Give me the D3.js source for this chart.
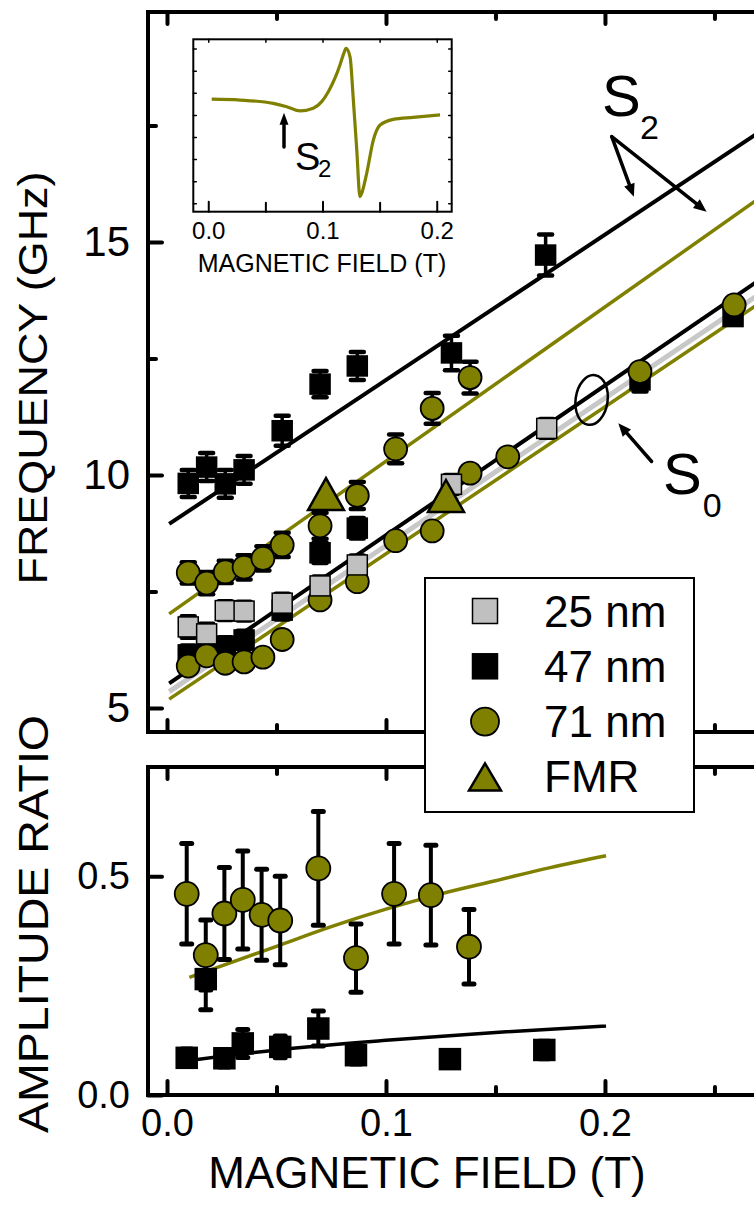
<!DOCTYPE html>
<html>
<head>
<meta charset="utf-8">
<script src="https://cdn.jsdelivr.net/npm/d3@7"></script>
<style>
  body { margin: 0; background: #fff; }
  svg { display: block; }
</style>
</head>
<body>
<svg id="chart" width="754" height="1216"></svg>
<script>
// ---------- data ----------

// upper branch (S2)
const s2Field47 = [0.0097, 0.0181, 0.0266, 0.0352, 0.0526, 0.0699, 0.0869, 0.1299, 0.1729];
const s2Freq47  = [9.82, 10.17, 9.81, 10.11, 10.95, 11.95, 12.34, 12.62, 14.72];
const s2Err47   = [0.29, 0.30, 0.30, 0.30, 0.32, 0.28, 0.30, 0.37, 0.44];

const s2Field71 = [0.0097, 0.0181, 0.0266, 0.0352, 0.0438, 0.0526, 0.0699, 0.0869, 0.1044, 0.1211, 0.1384];
const s2Freq71  = [7.90, 7.68, 7.92, 8.02, 8.21, 8.50, 8.91, 9.56, 10.56, 11.43, 12.09];
const s2Err71   = [0.23, 0.24, 0.24, 0.26, 0.26, 0.26, 0.28, 0.29, 0.31, 0.33, 0.34];

// lower branch (S0)
const s0Field25 = [0.0097, 0.0181, 0.0266, 0.0352, 0.0526, 0.0699, 0.0869, 0.1299, 0.1734];
const s0Freq25  = [6.74, 6.59, 7.09, 7.08, 7.25, 7.62, 8.07, 9.80, 11.00];
const s0Err25   = [0.23, 0.22, 0.20, 0.20, 0.20, 0.20, 0.20, 0.20, 0.20];

const s0Field47 = [0.0097, 0.0181, 0.0266, 0.0352, 0.0526, 0.0699, 0.0869, 0.2160, 0.2585];
const s0Freq47  = [6.14, 6.25, 6.32, 6.46, 7.10, 8.33, 8.86, 12.04, 13.40];
const s0Err47   = [0.20, 0.20, 0.20, 0.20, 0.20, 0.22, 0.22, 0.25, 0.15];

const s0Field71 = [0.0097, 0.0181, 0.0266, 0.0352, 0.0438, 0.0526, 0.0699, 0.0869, 0.1044, 0.1211, 0.1384, 0.1556, 0.2160, 0.2590];
const s0Freq71  = [5.90, 6.12, 5.96, 5.99, 6.09, 6.47, 7.32, 7.71, 8.59, 8.80, 10.04, 10.39, 12.22, 13.65];
const s0Err71   = [0.12, 0.12, 0.12, 0.12, 0.12, 0.12, 0.12, 0.12, 0.12, 0.12, 0.12, 0.12, 0.15, 0.15];

const fmrField = [0.0726, 0.1274];
const fmrFreq  = [9.59, 9.55];

// linear fits (end points)
const fitField = [0.001, 0.285];
const fitS2_47 = [8.95, 17.81];
const fitS2_71 = [7.02, 16.42];
const fitS0_47 = [5.53, 14.65];
const fitS0_25 = [5.35, 14.34];
const fitS0_71 = [5.19, 14.14];

// amplitude ratio panel
const ampField71 = [0.0090, 0.0177, 0.0262, 0.0346, 0.0432, 0.0517, 0.0691, 0.0863, 0.1037, 0.1205, 0.1379];
const ampRatio71 = [0.460, 0.320, 0.415, 0.446, 0.412, 0.399, 0.518, 0.313, 0.460, 0.457, 0.339];
const ampErr71   = [0.115, 0.080, 0.105, 0.112, 0.104, 0.101, 0.130, 0.078, 0.115, 0.114, 0.085];

const ampField47 = [0.0090, 0.0177, 0.0262, 0.0346, 0.0517, 0.0691, 0.0863, 0.1292, 0.1723];
const ampRatio47 = [0.085, 0.265, 0.084, 0.118, 0.110, 0.152, 0.091, 0.082, 0.103];
const ampErr47   = [0.020, 0.070, 0.020, 0.032, 0.025, 0.040, 0.020, 0.015, 0.020];

const ampFitField71 = [0.0102, 0.05, 0.075, 0.10, 0.125, 0.15, 0.175, 0.2005];
const ampFitRatio71 = [0.269, 0.340, 0.385, 0.425, 0.460, 0.490, 0.520, 0.547];
const ampFitField47 = [0.0102, 0.05, 0.10, 0.15, 0.2005];
const ampFitRatio47 = [0.079, 0.103, 0.125, 0.143, 0.158];

// inset: absorption derivative trace (arb. units)
const insetField  = [0.0030, 0.0278, 0.0569, 0.0687, 0.0803, 0.0919, 0.0993, 0.1051, 0.1109, 0.1153, 0.1188, 0.1206,
                     0.1241, 0.1270, 0.1300, 0.1328, 0.1343, 0.1387, 0.1445, 0.1504, 0.1620, 0.1792, 0.2029];
const insetSignal = [4.71, 4.67, 4.52, 4.37, 4.18, 4.30, 4.60, 5.05, 5.66, 6.26, 6.81, 7.01,
                     6.63, 4.67, 2.41, 0.30, 0.45, 1.36, 2.86, 3.54, 3.80, 3.89, 4.00];

const xTicksMajor = [0, 0.1, 0.2];
const xTicksMinor = [0.05, 0.15, 0.25];
const freqTicks = [5, 10, 15];
const freqMinor = [7.5, 12.5, 17.5];
const ampTicks = [0, 0.5];
const legendLabels = ["25 nm", "47 nm", "71 nm", "FMR"];

const OLIVE = "#808000";
const GREY = "#c0c0c0";
const FONT = "'Liberation Sans', Arial, Helvetica, sans-serif";

// ---------- scales ----------
const svg = d3.select("#chart");
const x = d3.scaleLinear().domain([-0.00868, 0.2845]).range([148, 790]);
const yTop = d3.scaleLinear().domain([4.485, 19.936]).range([732, 12]);
const yBot = d3.scaleLinear().domain([0, 0.75]).range([1095, 767]);

const zip3 = (a, b, c) => a.map((v, i) => ({b: v, v: b[i], e: c ? c[i] : 0}));

function styleAxis(g, fs, w) {
    g.select(".domain").remove();
    g.selectAll(".tick line").attr("stroke", "#000").attr("stroke-width", w).attr("stroke-linecap", "round");
    g.selectAll("text").attr("font-size", fs).attr("font-family", FONT).attr("fill", "#000");
}

function errorBars(g, data, ys, lw, capW) {
    let eb = g.append("g");
    eb.selectAll("line.bar").data(data).join("line")
        .attr("x1", d => x(d.b)).attr("x2", d => x(d.b))
        .attr("y1", d => ys(d.v - d.e)).attr("y2", d => ys(d.v + d.e))
        .attr("stroke", "#000").attr("stroke-width", lw);
    [-1, 1].forEach(s => {
        eb.append("g").selectAll("line").data(data).join("line")
            .attr("x1", d => x(d.b) - capW / 2).attr("x2", d => x(d.b) + capW / 2)
            .attr("y1", d => ys(d.v + s * d.e)).attr("y2", d => ys(d.v + s * d.e))
            .attr("stroke", "#000").attr("stroke-width", lw + 1).attr("stroke-linecap", "round");
    });
}

function squares(g, data, ys, side, fill) {
    g.append("g").selectAll("rect").data(data).join("rect")
        .attr("x", d => x(d.b) - side / 2).attr("y", d => ys(d.v) - side / 2)
        .attr("width", side).attr("height", side)
        .attr("fill", fill).attr("stroke", "#000").attr("stroke-width", 1.5);
}

function circles(g, data, ys, r) {
    g.append("g").selectAll("circle").data(data).join("circle")
        .attr("cx", d => x(d.b)).attr("cy", d => ys(d.v)).attr("r", r)
        .attr("fill", OLIVE).attr("stroke", "#000").attr("stroke-width", 1.8);
}

function triPath(cx, cy, w, h) {
    return `M${cx - w / 2},${cy + h / 2}L${cx + w / 2},${cy + h / 2}L${cx},${cy - h / 2}Z`;
}

function arrow(g, x1, y1, x2, y2, len, wid) {
    let a = Math.atan2(y2 - y1, x2 - x1);
    let bx = x2 - len * Math.cos(a), by = y2 - len * Math.sin(a);
    let nx = -Math.sin(a) * wid / 2, ny = Math.cos(a) * wid / 2;
    g.append("line").attr("x1", x1).attr("y1", y1).attr("x2", bx).attr("y2", by)
        .attr("stroke", "#000").attr("stroke-width", 3.5).attr("stroke-linecap", "round");
    g.append("path").attr("d", `M${x2},${y2}L${bx + nx},${by + ny}L${bx - nx},${by - ny}Z`).attr("fill", "#000");
}

// ---------- top panel: frequency ----------
let freqPanel = svg.append("g");

// fit lines
let fits = [
    {v: fitS2_71, c: OLIVE, w: 3.5},
    {v: fitS2_47, c: "#000", w: 4},
    {v: fitS0_71, c: OLIVE, w: 3.5},
    {v: fitS0_25, c: "#c8c8c8", w: 5},
    {v: fitS0_47, c: "#000", w: 4}
];
freqPanel.append("g").selectAll("line").data(fits).join("line")
    .attr("x1", x(fitField[0])).attr("x2", x(fitField[1]))
    .attr("y1", d => yTop(d.v[0])).attr("y2", d => yTop(d.v[1]))
    .attr("stroke", d => d.c).attr("stroke-width", d => d.w);

// error bars
errorBars(freqPanel, zip3(s2Field47, s2Freq47, s2Err47), yTop, 3.5, 13);
errorBars(freqPanel, zip3(s2Field71, s2Freq71, s2Err71), yTop, 3.5, 13);
errorBars(freqPanel, zip3(s0Field47, s0Freq47, s0Err47), yTop, 3.5, 13);
errorBars(freqPanel, zip3(s0Field71, s0Freq71, s0Err71), yTop, 3.5, 13);
errorBars(freqPanel, zip3(s0Field25, s0Freq25, s0Err25), yTop, 3.5, 13);

// markers
squares(freqPanel, zip3(s2Field47, s2Freq47), yTop, 20, "#000");
squares(freqPanel, zip3(s0Field47, s0Freq47), yTop, 20, "#000");
circles(freqPanel, zip3(s2Field71, s2Freq71), yTop, 11.5);
circles(freqPanel, zip3(s0Field71, s0Freq71), yTop, 11.5);
squares(freqPanel, zip3(s0Field25, s0Freq25), yTop, 20, GREY);
freqPanel.append("g").selectAll("path").data(zip3(fmrField, fmrFreq)).join("path")
    .attr("d", d => triPath(x(d.b), yTop(d.v), 36, 32))
    .attr("fill", OLIVE).attr("stroke", "#000").attr("stroke-width", 2.5);

// frame and ticks
freqPanel.append("rect").attr("x", 148).attr("y", 12).attr("width", 642).attr("height", 720)
    .attr("fill", "none").attr("stroke", "#000").attr("stroke-width", 4);

freqPanel.append("g").attr("transform", "translate(148,0)")
    .call(d3.axisLeft(yTop).tickValues(freqTicks).tickSize(-14).tickPadding(18).tickFormat(d3.format("d")))
    .call(g => styleAxis(g, 42, 4));
freqPanel.append("g").attr("transform", "translate(148,0)")
    .call(d3.axisLeft(yTop).tickValues(freqMinor).tickSize(-8).tickFormat(""))
    .call(g => styleAxis(g, 42, 4));
[[12, d3.axisTop], [732, d3.axisBottom]].forEach(([yy, ax]) => {
    freqPanel.append("g").attr("transform", `translate(0,${yy})`)
        .call(ax(x).tickValues(xTicksMajor).tickSize(-12).tickFormat(""))
        .call(g => styleAxis(g, 38, 4));
    freqPanel.append("g").attr("transform", `translate(0,${yy})`)
        .call(ax(x).tickValues(xTicksMinor).tickSize(-7).tickFormat(""))
        .call(g => styleAxis(g, 38, 4));
});

// annotations
let ann = svg.append("g");
arrow(ann, x(0.2031), yTop(17.26), x(0.2132), yTop(15.97), 13, 11);
arrow(ann, x(0.2031), yTop(17.26), x(0.2464), yTop(15.65), 13, 11);
arrow(ann, x(0.2213), yTop(10.29), x(0.2061), yTop(11.11), 13, 11);
ann.append("ellipse").attr("transform", `translate(${x(0.1939)},${yTop(11.61)}) rotate(8)`)
    .attr("rx", 16).attr("ry", 25).attr("fill", "none").attr("stroke", "#000").attr("stroke-width", 2.5);
ann.append("text").attr("x", x(0.1986)).attr("y", yTop(17.70)).attr("font-size", 58).attr("font-family", FONT).text("S");
ann.append("text").attr("x", x(0.2160)).attr("y", yTop(17.21)).attr("font-size", 34).attr("font-family", FONT).text("2");
ann.append("text").attr("x", x(0.2265)).attr("y", yTop(9.59)).attr("font-size", 58).attr("font-family", FONT).text("S");
ann.append("text").attr("x", x(0.2446)).attr("y", yTop(9.10)).attr("font-size", 34).attr("font-family", FONT).text("0");

// ---------- inset ----------
const xIn = d3.scaleLinear().domain([-0.0131, 0.2131]).range([193.3, 451.7]);
const yIn = d3.scaleLinear().domain([-0.38, 7.42]).range([211.7, 39.3]);
let inset = svg.append("g");
inset.append("rect").attr("x", 193.3).attr("y", 39.3).attr("width", 258.4).attr("height", 172.4)
    .attr("fill", "#fff");
inset.append("path").datum(d3.zip(insetField, insetSignal))
    .attr("d", d3.line().x(d => xIn(d[0])).y(d => yIn(d[1])).curve(d3.curveMonotoneX))
    .attr("fill", "none").attr("stroke", OLIVE).attr("stroke-width", 3.2);
inset.append("rect").attr("x", 193.3).attr("y", 39.3).attr("width", 258.4).attr("height", 172.4)
    .attr("fill", "none").attr("stroke", "#000").attr("stroke-width", 2);
inset.append("g").attr("transform", "translate(0,211.7)")
    .call(d3.axisBottom(xIn).tickValues(xTicksMajor).tickSize(-10).tickPadding(10).tickFormat(d3.format(".1f")))
    .call(g => styleAxis(g, 24, 2));
inset.append("g").attr("transform", "translate(0,211.7)")
    .call(d3.axisBottom(xIn).tickValues([0.05, 0.15]).tickSize(-9).tickFormat(""))
    .call(g => styleAxis(g, 24, 2));
inset.append("g").attr("transform", "translate(0,39.3)")
    .call(d3.axisTop(xIn).tickValues([0, 0.05, 0.1, 0.15, 0.2]).tickSize(-3).tickFormat(""))
    .call(g => styleAxis(g, 24, 1.5));
inset.append("g").attr("transform", "translate(193.3,0)")
    .call(d3.axisLeft(yIn).tickValues(d3.range(0, 8)).tickSize(-3).tickFormat(""))
    .call(g => styleAxis(g, 24, 1.5));
inset.append("g").attr("transform", "translate(451.7,0)")
    .call(d3.axisRight(yIn).tickValues(d3.range(0, 8)).tickSize(-3).tickFormat(""))
    .call(g => styleAxis(g, 24, 1.5));
inset.append("text").attr("x", 322).attr("y", 272).attr("text-anchor", "middle")
    .attr("font-size", 25).attr("font-family", FONT).text("MAGNETIC FIELD (T)");
arrow(inset, xIn(0.0663), yIn(2.55), xIn(0.0663), yIn(4.10), 12, 9);
inset.append("text").attr("x", xIn(0.0759)).attr("y", yIn(1.51)).attr("font-size", 38).attr("font-family", FONT).text("S");
inset.append("text").attr("x", xIn(0.0960)).attr("y", yIn(1.20)).attr("font-size", 24).attr("font-family", FONT).text("2");

// ---------- bottom panel: amplitude ratio ----------
let ampPanel = svg.append("g");
let lineAmp = d3.line().x(d => x(d[0])).y(d => yBot(d[1])).curve(d3.curveMonotoneX);
ampPanel.append("path").datum(d3.zip(ampFitField71, ampFitRatio71)).attr("d", lineAmp)
    .attr("fill", "none").attr("stroke", OLIVE).attr("stroke-width", 3.5);
ampPanel.append("path").datum(d3.zip(ampFitField47, ampFitRatio47)).attr("d", lineAmp)
    .attr("fill", "none").attr("stroke", "#000").attr("stroke-width", 3.5);

errorBars(ampPanel, zip3(ampField47, ampRatio47, ampErr47), yBot, 4, 10);
errorBars(ampPanel, zip3(ampField71, ampRatio71, ampErr71), yBot, 4, 10);
squares(ampPanel, zip3(ampField47, ampRatio47), yBot, 21, "#000");
circles(ampPanel, zip3(ampField71, ampRatio71), yBot, 12);

ampPanel.append("rect").attr("x", 148).attr("y", 767).attr("width", 642).attr("height", 328)
    .attr("fill", "none").attr("stroke", "#000").attr("stroke-width", 4);
ampPanel.append("g").attr("transform", "translate(148,0)")
    .call(d3.axisLeft(yBot).tickValues(ampTicks).tickSize(-14).tickPadding(18).tickFormat(d3.format(".1f")))
    .call(g => styleAxis(g, 38, 4));
ampPanel.append("g").attr("transform", "translate(0,767)")
    .call(d3.axisTop(x).tickValues(xTicksMajor).tickSize(-12).tickFormat(""))
    .call(g => styleAxis(g, 38, 4));
ampPanel.append("g").attr("transform", "translate(0,767)")
    .call(d3.axisTop(x).tickValues(xTicksMinor).tickSize(-7).tickFormat(""))
    .call(g => styleAxis(g, 38, 4));
ampPanel.append("g").attr("transform", "translate(0,1095)")
    .call(d3.axisBottom(x).tickValues(xTicksMajor).tickSize(-14).tickPadding(14).tickFormat(d3.format(".1f")))
    .call(g => styleAxis(g, 38, 4));
ampPanel.append("g").attr("transform", "translate(0,1095)")
    .call(d3.axisBottom(x).tickValues(xTicksMinor).tickSize(-8).tickFormat(""))
    .call(g => styleAxis(g, 38, 4));

// ---------- axis titles ----------
svg.append("text").attr("x", 427).attr("y", 1188).attr("text-anchor", "middle")
    .attr("font-size", 44).attr("font-family", FONT).text("MAGNETIC FIELD (T)");
svg.append("text").attr("transform", "translate(47,378) rotate(-90)").attr("text-anchor", "middle")
    .attr("font-size", 40).attr("font-family", FONT)
    .attr("textLength", 413).attr("lengthAdjust", "spacingAndGlyphs").text("FREQUENCY (GHz)");
svg.append("text").attr("transform", "translate(48,924) rotate(-90)").attr("text-anchor", "middle")
    .attr("font-size", 42).attr("font-family", FONT)
    .attr("textLength", 418).attr("lengthAdjust", "spacingAndGlyphs").text("AMPLITUDE RATIO");

// ---------- legend ----------
let legend = svg.append("g");
legend.append("rect").attr("x", 425).attr("y", 578).attr("width", 269).attr("height", 234)
    .attr("fill", "#fff").attr("stroke", "#000").attr("stroke-width", 2);
let rows = legend.selectAll("g.row").data(legendLabels).join("g")
    .attr("transform", (d, i) => `translate(485,${611 + i * 55.3})`);
rows.filter((d, i) => i < 2).append("rect")
    .attr("x", -12.5).attr("y", -12.5).attr("width", 25).attr("height", 25)
    .attr("fill", d => d === "25 nm" ? GREY : "#000").attr("stroke", "#000").attr("stroke-width", 1.5);
rows.filter((d, i) => i === 2).append("circle").attr("r", 14)
    .attr("fill", OLIVE).attr("stroke", "#000").attr("stroke-width", 1.8);
rows.filter((d, i) => i === 3).append("path").attr("d", triPath(0, 0, 32, 27))
    .attr("fill", OLIVE).attr("stroke", "#000").attr("stroke-width", 2.5);
rows.append("text").attr("x", 59).attr("y", 15.5).attr("font-size", 44).attr("font-family", FONT)
    .text(d => d);
</script>
</body>
</html>
